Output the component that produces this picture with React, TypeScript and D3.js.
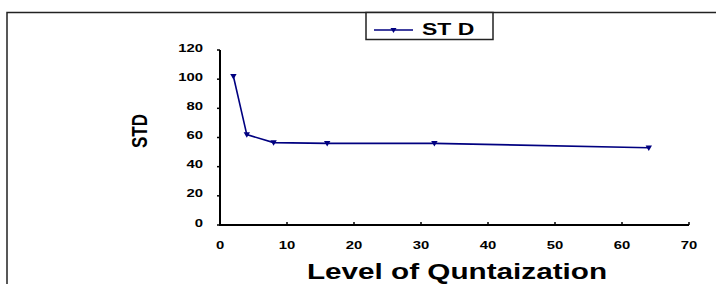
import { useMemo } from 'react';
import * as d3 from 'd3';

const levels = [2, 4, 8, 16, 32, 64];
const stdValues = [102, 62, 56.5, 56, 56, 53];
const xTicks = [0, 10, 20, 30, 40, 50, 60, 70];
const yTicks = [0, 20, 40, 60, 80, 100, 120];
const seriesName = 'ST D';

const W = 716;
const H = 284;
// the original picture is stretched sideways, text included
const SX = 1.35;

export default function App() {
  const { x, y, linePath, pts } = useMemo(() => {
    const x = d3.scaleLinear().domain([0, 70]).range([220, 689]);
    const y = d3.scaleLinear().domain([0, 120]).range([225, 50]);
    const data = levels.map((l, i) => ({ l, v: stdValues[i] }));
    const line = d3
      .line<{ l: number; v: number }>()
      .x((d) => x(d.l))
      .y((d) => y(d.v));
    return { x, y, linePath: line(data) ?? '', pts: data };
  }, []);

  const tri = (cx: number, cy: number, s: number) =>
    `M${cx - s},${cy - s * 0.7}L${cx + s},${cy - s * 0.7}L${cx},${cy + s}Z`;

  return (
    <svg
      width={W}
      height={H}
      style={{ position: 'absolute', left: 0, top: 0, display: 'block', background: '#fff' }}
      fontFamily="'Liberation Sans', Arial, sans-serif"
    >
      {/* outer frame */}
      <path d={`M7,${H}V12.5H${W}`} fill="none" stroke="#222" strokeWidth={1.5} />

      {/* legend */}
      <rect x={366} y={12.5} width={127} height={27} fill="#fff" stroke="#222" strokeWidth={1.5} />
      <line x1={374} x2={413} y1={30} y2={30} stroke="#000080" strokeWidth={1.6} />
      <path d={tri(393.5, 30, 3)} fill="#000080" />
      <text transform={`translate(422,35) scale(${SX},1)`} fontSize={17} fontWeight="bold" fill="#000">
        {seriesName}
      </text>

      {/* y axis */}
      <line x1={x(0)} x2={x(0)} y1={y(120)} y2={y(0)} stroke="#000" strokeWidth={2} />
      {yTicks.map((t) => (
        <g key={t}>
          <line x1={x(0) - 3} x2={x(0)} y1={y(t)} y2={y(t)} stroke="#000" strokeWidth={1.5} />
          <text
            transform={`translate(203,${y(t) + 1.5}) scale(${SX},1)`}
            fontSize={11}
            fontWeight="bold"
            textAnchor="end"
            fill="#000"
          >
            {t}
          </text>
        </g>
      ))}

      {/* x axis */}
      <line x1={x(0) - 1} x2={x(70)} y1={y(0)} y2={y(0)} stroke="#000" strokeWidth={2} />
      {xTicks.map((t) => (
        <g key={t}>
          <line x1={x(t)} x2={x(t)} y1={y(0)} y2={y(0) - 3} stroke="#000" strokeWidth={1.5} />
          <text
            transform={`translate(${x(t)},249) scale(${SX},1)`}
            fontSize={11}
            fontWeight="bold"
            textAnchor="middle"
            fill="#000"
          >
            {t}
          </text>
        </g>
      ))}

      {/* titles */}
      <text
        transform={`translate(457,279) scale(${SX},1)`}
        fontSize={22}
        fontWeight="bold"
        textAnchor="middle"
        fill="#000"
      >
        Level of Quntaization
      </text>
      <text
        transform={`translate(147,131) scale(${SX},1) rotate(-90)`}
        fontSize={17}
        fontWeight="bold"
        textAnchor="middle"
        fill="#000"
      >
        STD
      </text>

      {/* series */}
      <path d={linePath} fill="none" stroke="#000080" strokeWidth={1.6} />
      {pts.map((d) => (
        <path key={d.l} d={tri(x(d.l), y(d.v), 3.2)} fill="#000080" />
      ))}
    </svg>
  );
}
